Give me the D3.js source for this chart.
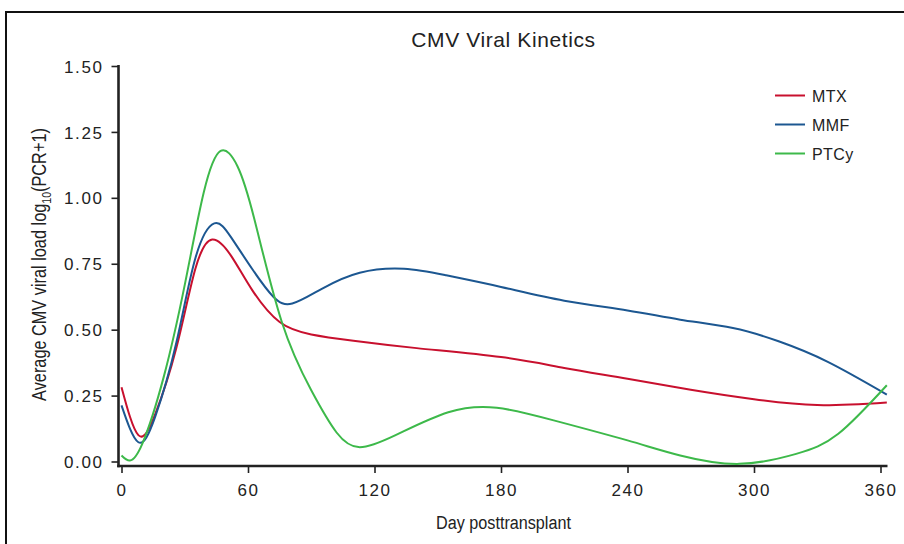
<!DOCTYPE html>
<html>
<head>
<meta charset="utf-8">
<script src="https://cdn.jsdelivr.net/npm/d3@7"></script>
<style>
  body { margin: 0; background: #fff; }
  text { font-family: "Liberation Sans", Arial, sans-serif; fill: #222; }
</style>
</head>
<body>
<div id="chart-area"></div>
<script>
// Data
let mtxDays = [0, 8, 16, 26, 35, 43, 52, 62, 75, 90, 110, 140, 180, 210, 240, 270, 300, 330, 363];
let mtxValues = [0.282, 0.10, 0.18, 0.43, 0.73, 0.842, 0.78, 0.65, 0.529, 0.482, 0.458, 0.43, 0.396, 0.355, 0.314, 0.272, 0.236, 0.214, 0.224];

let mmfDays = [0, 8, 16, 26, 35, 44, 52, 62, 72, 81, 95, 113, 134, 154, 180, 210, 240, 265, 290, 312, 335, 363];
let mmfValues = [0.213, 0.073, 0.17, 0.45, 0.77, 0.903, 0.85, 0.73, 0.625, 0.599, 0.655, 0.716, 0.731, 0.706, 0.662, 0.61, 0.573, 0.538, 0.506, 0.455, 0.378, 0.254];

let ptcyDays = [0, 4, 10, 20, 30, 39, 47, 55, 63, 76, 90, 102, 113, 130, 155, 178, 205, 240, 265, 293, 320, 340, 363];
let ptcyValues = [0.023, 0.004, 0.07, 0.32, 0.67, 1.02, 1.178, 1.12, 0.92, 0.53, 0.27, 0.11, 0.054, 0.10, 0.187, 0.204, 0.156, 0.08, 0.023, -0.009, 0.029, 0.105, 0.289];

let seriesNames = ["MTX", "MMF", "PTCy"];
let seriesColors = ["#c8102e", "#1c5791", "#3db94a"];
let xTicks = [0, 60, 120, 180, 240, 300, 360];
let yTicks = [0, 0.25, 0.5, 0.75, 1, 1.25, 1.5];

let series = [
	{ name: "MTX", days: mtxDays, values: mtxValues },
	{ name: "MMF", days: mmfDays, values: mmfValues },
	{ name: "PTCy", days: ptcyDays, values: ptcyValues }
];

let W = 904, H = 544;
let svg = d3.select("#chart-area")
	.append("svg")
	.attr("width", W)
	.attr("height", H);

// frame
svg.append("path")
	.attr("d", "M6," + (H + 5) + "V12H" + (W + 5))
	.attr("fill", "none")
	.attr("stroke", "#111")
	.attr("stroke-width", 2);

// Scales
let x = d3.scaleLinear().domain([0, 360]).range([121.5, 880.5]);
let y = d3.scaleLinear().domain([0, 1.5]).range([461.5, 66]);
let color = d3.scaleOrdinal(seriesNames, seriesColors);

let axisY0 = 466, axisX0 = 118.5;

// Y Axis
let yAxisCall = d3.axisLeft(y)
	.tickValues(yTicks)
	.tickSize(7)
	.tickPadding(8)
	.tickFormat(d3.format(".2f"));
let yAxis = svg.append("g")
	.attr("transform", "translate(" + axisX0 + ",0)")
	.call(yAxisCall);
yAxis.select(".domain").remove();

// X Axis
let xAxisCall = d3.axisBottom(x)
	.tickValues(xTicks)
	.tickSize(7)
	.tickPadding(11)
	.tickFormat(d3.format("d"));
let xAxis = svg.append("g")
	.attr("transform", "translate(0," + axisY0 + ")")
	.call(xAxisCall);
xAxis.select(".domain").remove();

[yAxis, xAxis].forEach((a) => {
	a.selectAll(".tick line").attr("stroke", "#222").attr("stroke-width", 1.6);
	a.selectAll(".tick text")
		.attr("font-size", "17px")
		.attr("letter-spacing", "1.6px")
		.style("font-family", "'Liberation Sans', Arial, sans-serif")
		.attr("fill", "#222");
});
yAxis.selectAll(".tick text").attr("dy", "0.36em");

// axis lines
svg.append("line")
	.attr("x1", axisX0).attr("x2", axisX0)
	.attr("y1", y(1.5) - 1).attr("y2", axisY0 + 1.3)
	.attr("stroke", "#222").attr("stroke-width", 2.6);
svg.append("line")
	.attr("x1", axisX0 - 1.3).attr("x2", 887.5)
	.attr("y1", axisY0).attr("y2", axisY0)
	.attr("stroke", "#222").attr("stroke-width", 2.6);

// Lines
let line = d3.line()
	.x((d) => x(d[0]))
	.y((d) => y(d[1]))
	.curve(d3.curveNatural);

series.forEach((s) => {
	svg.append("path")
		.datum(s.days.map((d, i) => [d, s.values[i]]))
		.attr("fill", "none")
		.attr("stroke", color(s.name))
		.attr("stroke-width", 2)
		.attr("d", line);
});

// Legend
let legend = svg.append("g").attr("transform", "translate(775,95.5)");
seriesNames.forEach((value, index) => {
	let row = legend.append("g").attr("transform", "translate(0," + (index * 29) + ")");
	row.append("line")
		.attr("x1", 0).attr("x2", 30)
		.attr("stroke", color(value))
		.attr("stroke-width", 2);
	row.append("text")
		.attr("x", 37)
		.attr("y", 6)
		.attr("font-size", "16px")
		.attr("letter-spacing", "0.4px")
		.text(value);
});

// Title
svg.append("text")
	.attr("x", 503.5)
	.attr("y", 47)
	.attr("text-anchor", "middle")
	.attr("font-size", "21px")
	.attr("letter-spacing", "0.6px")
	.text("CMV Viral Kinetics");

// squeeze a label to a target width (condensed look)
const fitWidth = (sel, target) => {
	let w = sel.node().getComputedTextLength();
	return target / w;
};

// X label
let xLabel = svg.append("text")
	.attr("text-anchor", "middle")
	.attr("font-size", "19px")
	.text("Day posttransplant");
let sx = fitWidth(xLabel, 135);
xLabel.attr("transform", "translate(503.5,529) scale(" + sx + ",1)");

// Y label
let yLabel = svg.append("text")
	.attr("text-anchor", "middle")
	.attr("font-size", "20px");
yLabel.append("tspan").text("Average CMV viral load log");
yLabel.append("tspan").attr("font-size", "13px").attr("dy", "5").text("10");
yLabel.append("tspan").attr("dy", "-5").text("(PCR+1)");
let sy = fitWidth(yLabel, 273);
yLabel.attr("transform", "translate(45.5,264.5) rotate(-90) scale(" + sy + ",1)");
</script>
</body>
</html>
